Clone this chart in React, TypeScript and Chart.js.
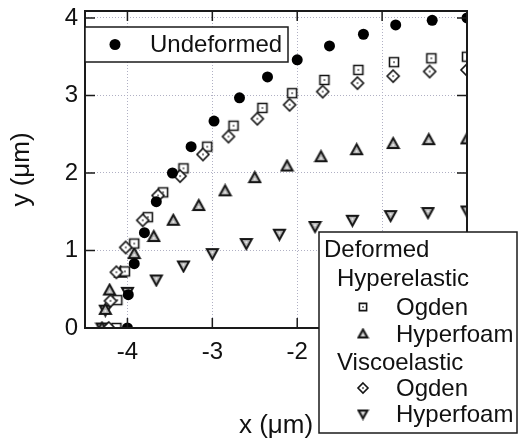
import React, { useEffect, useRef } from "react";
import { Chart, registerables } from "chart.js";
Chart.register(...registerables);

// ---- data (µm) ----
const undeformedX = [-4.0, -3.99, -3.92, -3.8, -3.66, -3.47, -3.25, -2.98, -2.68, -2.35, -2.0, -1.62, -1.22, -0.84, -0.41, 0];
const undeformedY = [0, 0.43, 0.83, 1.23, 1.63, 2.0, 2.34, 2.67, 2.97, 3.24, 3.46, 3.64, 3.79, 3.91, 3.97, 4.0];

const hyperOgdenX = [-4.13, -4.12, -4.03, -3.92, -3.76, -3.58, -3.34, -3.06, -2.75, -2.41, -2.06, -1.68, -1.28, -0.86, -0.42, 0];
const hyperOgdenY = [0, 0.36, 0.73, 1.09, 1.43, 1.75, 2.06, 2.34, 2.61, 2.84, 3.03, 3.2, 3.33, 3.43, 3.48, 3.5];

const hyperFoamX = [-4.3, -4.26, -4.21, -4.08, -3.92, -3.69, -3.46, -3.16, -2.85, -2.5, -2.12, -1.72, -1.3, -0.87, -0.45, 0];
const hyperFoamY = [0, 0.24, 0.49, 0.72, 0.96, 1.18, 1.39, 1.58, 1.77, 1.94, 2.09, 2.21, 2.3, 2.38, 2.43, 2.44];

const viscoOgdenX = [-4.22, -4.2, -4.13, -4.02, -3.82, -3.64, -3.38, -3.11, -2.81, -2.47, -2.09, -1.7, -1.29, -0.87, -0.44, 0];
const viscoOgdenY = [0, 0.35, 0.72, 1.04, 1.39, 1.71, 1.96, 2.24, 2.47, 2.7, 2.88, 3.05, 3.16, 3.25, 3.31, 3.33];

const viscoFoamX = [-4.3, -4.26, -4.0, -3.66, -3.34, -3.0, -2.6, -2.21, -1.79, -1.35, -0.9, -0.46, 0];
const viscoFoamY = [0, 0.23, 0.46, 0.62, 0.8, 0.96, 1.09, 1.21, 1.31, 1.39, 1.45, 1.49, 1.51];

const xTickValues = [-4, -3, -2, -1, 0];
const yTickValues = [0, 1, 2, 3, 4];

const legendTop = ["Undeformed"];
const legendBottom = ["Deformed", "Hyperelastic", "Ogden", "Hyperfoam", "Viscoelastic", "Ogden", "Hyperfoam"];

const FONT = 'Arial, "Liberation Sans", sans-serif';

type Kind = "square" | "up" | "diamond" | "down";

function makeMarker(kind: Kind, s: number): HTMLCanvasElement {
  const pad = 2;
  const c = document.createElement("canvas");
  c.width = s + pad * 2;
  c.height = s + pad * 2;
  const g = c.getContext("2d")!;
  const m = c.width / 2;
  const h = s / 2;
  g.lineJoin = "miter";
  g.beginPath();
  let cy = m;
  if (kind === "square") {
    g.rect(m - h * 0.9, m - h * 0.9, h * 1.8, h * 1.8);
  } else if (kind === "diamond") {
    g.moveTo(m, m - h);
    g.lineTo(m + h, m);
    g.lineTo(m, m + h);
    g.lineTo(m - h, m);
    g.closePath();
  } else if (kind === "up") {
    g.moveTo(m, m - h);
    g.lineTo(m + h, m + h * 0.8);
    g.lineTo(m - h, m + h * 0.8);
    g.closePath();
    cy = m + h * 0.25;
  } else {
    g.moveTo(m, m + h);
    g.lineTo(m + h, m - h * 0.8);
    g.lineTo(m - h, m - h * 0.8);
    g.closePath();
    cy = m - h * 0.25;
  }
  const tri = kind === "up" || kind === "down";
  g.fillStyle = tri ? "#b8b8b8" : "#ffffff";
  g.fill();
  g.strokeStyle = "#151515";
  g.lineWidth = tri ? 2 : 1.6;
  g.stroke();
  g.beginPath();
  g.arc(m, cy, 1, 0, Math.PI * 2);
  g.fillStyle = tri ? "#f0f0f0" : "#555";
  g.fill();
  return c;
}

function pts(xs: number[], ys: number[]) {
  return xs.map((x, i) => ({ x, y: ys[i] }));
}

export default function App() {
  const ref = useRef<HTMLCanvasElement>(null);
  useEffect(() => {
    const canvas = ref.current!;
    const mk = {
      square: makeMarker("square", 10),
      up: makeMarker("up", 11),
      diamond: makeMarker("diamond", 12),
      down: makeMarker("down", 11),
    };
    const lg = {
      square: makeMarker("square", 8),
      up: makeMarker("up", 9),
      diamond: makeMarker("diamond", 10),
      down: makeMarker("down", 9),
    };

    const decor = {
      id: "decor",
      afterDraw(chart: any) {
        const { ctx, chartArea: a, scales } = chart;
        const xs = scales.x;
        const ys = scales.y;
        ctx.save();
        // frame
        ctx.strokeStyle = "#1a1a1a";
        ctx.lineWidth = 2;
        ctx.strokeRect(a.left, a.top, a.right - a.left, a.bottom - a.top);
        // inward ticks
        ctx.lineWidth = 1.5;
        ctx.beginPath();
        xTickValues.forEach((v) => {
          const px = xs.getPixelForValue(v);
          ctx.moveTo(px, a.bottom);
          ctx.lineTo(px, a.bottom - 10);
          ctx.moveTo(px, a.top);
          ctx.lineTo(px, a.top + 10);
        });
        yTickValues.forEach((v) => {
          const py = ys.getPixelForValue(v);
          ctx.moveTo(a.left, py);
          ctx.lineTo(a.left + 10, py);
          ctx.moveTo(a.right, py);
          ctx.lineTo(a.right - 10, py);
        });
        ctx.stroke();

        // legend 1
        const l1x = a.left, l1y = 27, l1w = 203, l1h = 35;
        ctx.fillStyle = "#fff";
        ctx.fillRect(l1x, l1y, l1w, l1h);
        ctx.strokeStyle = "#1a1a1a";
        ctx.lineWidth = 1.5;
        ctx.strokeRect(l1x, l1y, l1w, l1h);
        ctx.beginPath();
        ctx.arc(l1x + 30, l1y + l1h / 2, 5.5, 0, Math.PI * 2);
        ctx.fillStyle = "#000";
        ctx.fill();
        ctx.font = `24px ${FONT}`;
        ctx.textBaseline = "middle";
        ctx.textAlign = "left";
        ctx.fillStyle = "#111";
        ctx.fillText(legendTop[0], l1x + 65, l1y + l1h / 2 + 1);

        // legend 2
        const bx = 319, by = 232, bw = 198, bh = 201;
        ctx.fillStyle = "#fff";
        ctx.fillRect(bx, by, bw + 5, bh);
        ctx.strokeStyle = "#1a1a1a";
        ctx.strokeRect(bx, by, bw, bh);
        ctx.fillStyle = "#111";
        const rows = [249, 278, 307, 334, 362, 388, 414];
        const indent = [5, 18, 77, 77, 18, 77, 77];
        const icons: (HTMLCanvasElement | null)[] = [null, null, lg.square, lg.up, null, lg.diamond, lg.down];
        rows.forEach((ry, i) => {
          ctx.fillStyle = "#111";
          ctx.fillText(legendBottom[i], bx + indent[i], ry + 1);
          const ic = icons[i];
          if (ic) ctx.drawImage(ic, bx + 44 - ic.width / 2, ry - ic.height / 2);
        });
        ctx.restore();
      },
    };

    const gridOpts = {
      color: "#b0b0c4",
      lineWidth: 1,
      drawTicks: false,
    };

    const chart = new Chart(canvas, {
      type: "scatter",
      data: {
        datasets: [
          { label: "Undeformed", data: pts(undeformedX, undeformedY), pointStyle: "circle", pointRadius: 5.5, backgroundColor: "#000", borderColor: "#000", borderWidth: 0 },
          { label: "Viscoelastic Ogden", data: pts(viscoOgdenX, viscoOgdenY), pointStyle: mk.diamond as any },
          { label: "Hyperelastic Ogden", data: pts(hyperOgdenX, hyperOgdenY), pointStyle: mk.square as any },
          { label: "Hyperelastic Hyperfoam", data: pts(hyperFoamX, hyperFoamY), pointStyle: mk.up as any },
          { label: "Viscoelastic Hyperfoam", data: pts(viscoFoamX, viscoFoamY), pointStyle: mk.down as any },
        ],
      },
      options: {
        animation: false,
        responsive: false,
        devicePixelRatio: 1,
        layout: { padding: { top: 11, right: 51, left: 0, bottom: 0 } },
        plugins: { legend: { display: false }, tooltip: { enabled: false } },
        scales: {
          x: {
            type: "linear",
            min: -4.5,
            max: 0,
            border: { display: false, dash: [1, 2] },
            grid: gridOpts,
            ticks: {
              stepSize: 1,
              includeBounds: false,
              padding: 10,
              color: "#111",
              font: { family: FONT, size: 24 },
            },
            title: {
              display: true,
              text: "x (\u03bcm)",
              color: "#111",
              font: { family: FONT, size: 26 },
              padding: { top: 0, bottom: 0 },
            },
            afterFit(s: any) {
              s.height = 113;
              s.paddingLeft = 0;
              s.paddingRight = 0;
            },
          },
          y: {
            type: "linear",
            min: 0,
            max: 4.09,
            border: { display: false, dash: [1, 2] },
            grid: gridOpts,
            ticks: {
              stepSize: 1,
              includeBounds: false,
              padding: 7,
              color: "#111",
              font: { family: FONT, size: 24 },
            },
            title: {
              display: true,
              text: "y (\u03bcm)",
              color: "#111",
              font: { family: FONT, size: 26 },
              padding: { top: 6, bottom: 0 },
            },
            afterFit(s: any) {
              s.width = 85;
              s.paddingTop = 0;
              s.paddingBottom = 0;
            },
          },
        },
      } as any,
      plugins: [decor],
    });
    return () => chart.destroy();
  }, []);

  return (
    <div style={{ position: "fixed", left: 0, top: 0, width: 518, height: 441, background: "#fff" }}>
      <canvas ref={ref} width={518} height={441} style={{ display: "block" }} />
    </div>
  );
}
